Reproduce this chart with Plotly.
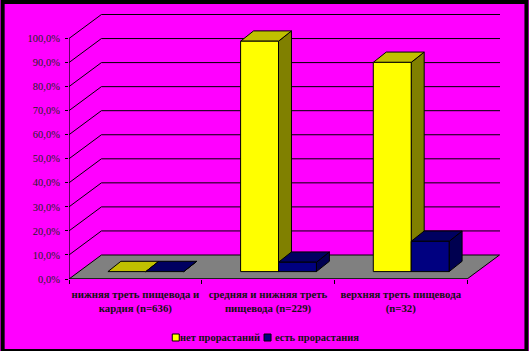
import plotly.graph_objects as go

categories = ["нижняя треть пищевода и<br>кардия (n=636)",
              "средняя и нижняя треть<br>пищевода (n=229)",
              "верхняя треть пищевода<br>(n=32)"]
series_names = ["нет прорастаний", "есть прорастания"]
no_invasion = [0.0, 95.8, 87.0]
invasion = [0.0, 3.9, 12.6]
y_ticks = [0, 10, 20, 30, 40, 50, 60, 70, 80, 90, 100]
y_labels = ["0,0%", "10,0%", "20,0%", "30,0%", "40,0%", "50,0%", "60,0%", "70,0%", "80,0%", "90,0%", "100,0%"]

W, H = 529, 351
L, R, T, B = 68.5, 500.5, 10.0, 279.0
X_UNIT, Y_UNIT = 133.0, 2.405
DX, DY = 32.5 / X_UNIT, 24.0 / Y_UNIT          # depth of the floor
BX, BY = 13.0 / X_UNIT, 10.3 / Y_UNIT          # depth of a bar
BASE = 7.4 / Y_UNIT                            # lift of the bars on the floor
GAP, BAR_W = 39.0 / X_UNIT, 38.0 / X_UNIT
XMAX, YMAX = (R - L) / X_UNIT, (B - T) / Y_UNIT

fig = go.Figure()


def poly(xs, ys, fill):
    fig.add_trace(go.Scatter(x=xs + xs[:1], y=ys + ys[:1], mode="lines", fill="toself", fillcolor=fill,
                             line=dict(color="black", width=1), hoverinfo="skip", showlegend=False))


def line(xs, ys, width=1.0):
    fig.add_trace(go.Scatter(x=xs, y=ys, mode="lines", line=dict(color="black", width=width),
                             hoverinfo="skip", showlegend=False))


# floor
poly([0, 3, 3 + DX, DX], [0, 0, DY, DY], "#808080")

# walls and gridlines
for v in y_ticks[1:]:
    line([0, DX, XMAX], [v, v + DY, v + DY], 1.0)
line([0, 0], [0, 100], 1.2)
line([0, 3], [0, 0], 1.2)


def bar(x0, value, front, top, side):
    x1 = x0 + BAR_W
    y0 = BASE
    y1 = BASE + value
    poly([x1, x1 + BX, x1 + BX, x1], [y0, y0 + BY, y1 + BY, y1], side)
    poly([x0, x1, x1 + BX, x0 + BX], [y1, y1, y1 + BY, y1 + BY], top)
    if value > 0:
        poly([x0, x1, x1, x0], [y0, y0, y1, y1], front)


for i in range(3):
    bar(i + GAP, no_invasion[i], "#FFFF00", "#C0C000", "#808000")
    bar(i + GAP + BAR_W, invasion[i], "#000080", "#000060", "#000050")


def px(x):
    return (x - L) / (R - L)


def py(y):
    return (B - y) / (B - T)


shapes = [
    dict(type="rect", xref="paper", yref="paper", x0=px(2), x1=px(527), y0=py(2), y1=py(351),
         fillcolor="#FF00FF", line=dict(color="black", width=4), layer="below"),
]
legend_x = [172, 264]
legend_text_x = [177.5, 273]
annotations = []
for i, (name, col) in enumerate(zip(series_names, ["#FFFF00", "#000080"])):
    shapes.append(dict(type="rect", xref="paper", yref="paper",
                       x0=px(legend_x[i]), x1=px(legend_x[i] + 7), y0=py(334), y1=py(341),
                       fillcolor=col, line=dict(color="black", width=1), layer="above"))
    annotations.append(dict(xref="paper", yref="paper", x=px(legend_text_x[i]), y=py(337.5), text=name,
                            showarrow=False, xanchor="left", yanchor="middle",
                            font=dict(family="Liberation Serif", size=10.5, color="#111111", weight="bold")))

fig.update_layout(
    width=W, height=H, autosize=False,
    margin=dict(l=L, r=W - R, t=T, b=H - B, pad=0),
    paper_bgcolor="#FF00FF", plot_bgcolor="rgba(0,0,0,0)",
    showlegend=False, shapes=shapes, annotations=annotations,
    xaxis=dict(range=[0, XMAX], showgrid=False, zeroline=False, showline=False,
               tickmode="array", tickvals=[i + 0.5 for i in range(3)], ticktext=categories,
               ticks="", ticklen=0, ticklabelstandoff=7, tickangle=0,
               tickfont=dict(family="Liberation Serif", size=10.8, color="#111111", weight="bold"),
               minor=dict(tickmode="array", tickvals=[0, 1, 2, 3], ticks="outside", ticklen=4,
                          tickwidth=1, tickcolor="black", showgrid=False)),
    yaxis=dict(range=[0, YMAX], showgrid=False, zeroline=False, showline=False,
               tickmode="array", tickvals=y_ticks, ticktext=y_labels,
               ticks="outside", ticklen=3, tickwidth=1, tickcolor="black", ticklabelstandoff=3,
               tickfont=dict(family="Liberation Serif", size=10.5, color="#222222")),
)

fig.write_html("out.html", config={"displayModeBar": False},
               post_script="document.body.style.margin='0';document.body.style.overflow='hidden';")
